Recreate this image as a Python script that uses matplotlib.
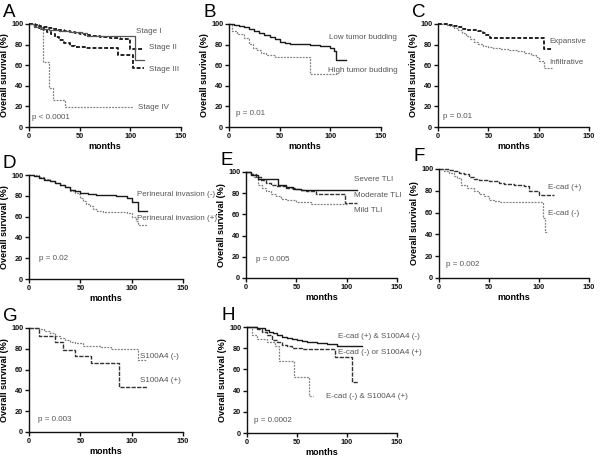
import matplotlib
matplotlib.use("Agg")
import matplotlib.pyplot as plt

plt.rcParams['font.family'] = ['Liberation Sans', 'DejaVu Sans']

# ---------------- data (months, survival %) ----------------
# Panel A
a_stage1_t = [0, 5, 12, 20, 30, 40, 52, 57, 105, 113]
a_stage1_s = [100, 97, 95, 94, 93, 92, 91, 88, 65, 65]
a_stage2_t = [0, 4, 8, 12, 16, 20, 25, 30, 35, 40, 45, 50, 55, 60, 70, 80, 90, 100, 113]
a_stage2_s = [100, 99, 98, 97.5, 97, 96, 95, 94, 93, 92, 91, 90, 89, 88, 87, 86, 85, 76, 76]
a_stage3_t = [0, 6, 10, 15, 18, 22, 26, 30, 35, 40, 45, 55, 88, 103, 113]
a_stage3_s = [100, 98, 96, 94, 92, 90, 87, 84, 82, 79, 78, 77, 70, 57, 57]
a_stage4_t = [0, 10, 14, 20, 24, 36, 103]
a_stage4_s = [100, 95, 63, 38, 26, 19, 19]

# Panel B
b_low_t = [0, 5, 10, 15, 20, 25, 30, 35, 40, 45, 50, 55, 60, 70, 80, 90, 100, 104, 106, 115]
b_low_s = [100, 99, 98, 97, 95, 93, 91, 89, 87, 85, 83, 82, 81, 80.5, 80, 79, 77, 74, 65, 65]
b_high_t = [0, 3, 8, 15, 20, 24, 28, 32, 37, 45, 80, 107]
b_high_s = [100, 93, 90, 86, 81, 77, 75, 72, 70, 68, 51, 51]

# Panel C
c_exp_t = [0, 10, 15, 20, 25, 30, 35, 40, 45, 48, 52, 105, 113]
c_exp_s = [100, 99, 98, 97, 95, 94.5, 94, 93, 91, 89, 86, 76, 76]
c_inf_t = [0, 8, 12, 16, 20, 24, 28, 32, 36, 40, 45, 50, 55, 62, 70, 78, 85, 92, 97, 100, 105, 113]
c_inf_s = [100, 99, 98, 96, 94, 91, 88, 85, 83, 81, 79, 78, 77, 76, 75, 74, 72, 70, 68, 64, 57, 57]

# Panel D
d_neg_t = [0, 5, 10, 15, 20, 25, 30, 35, 40, 45, 50, 57, 65, 75, 85, 95, 100, 106, 115]
d_neg_s = [100, 99, 97, 95.5, 94, 92, 90, 88, 86, 84.5, 83, 82, 81, 80.5, 80, 78, 74, 65, 65]
d_pos_t = [0, 10, 15, 20, 25, 30, 35, 40, 45, 48, 50, 53, 56, 59, 62, 66, 72, 95, 100, 104, 106, 115]
d_pos_s = [100, 98, 96, 94, 92, 90, 88, 85, 83, 82, 78, 75, 72, 70, 67, 65, 64, 63, 60, 56, 52, 52]

# Panel E
e_sev_t = [0, 5, 12, 30, 32, 40, 47, 55, 110]
e_sev_s = [100, 97, 93, 93, 88, 86, 84, 83, 83]
e_mod_t = [0, 5, 10, 15, 20, 25, 30, 40, 50, 55, 60, 70, 98, 110]
e_mod_s = [100, 98, 95, 92, 90, 88, 87, 85, 84, 83, 82, 79, 71, 71]
e_mild_t = [0, 5, 8, 12, 16, 20, 25, 30, 35, 40, 50, 65, 100]
e_mild_s = [100, 97, 95, 88, 85, 82, 79, 77, 75, 74, 72, 70, 70]

# Panel F
f_pos_t = [0, 10, 15, 20, 25, 30, 35, 40, 50, 60, 65, 75, 85, 90, 100, 115]
f_pos_s = [100, 99, 98, 96, 95, 93, 91, 90, 89, 87, 86, 85, 84, 80, 76, 76]
f_neg_t = [0, 5, 10, 15, 18, 22, 28, 35, 40, 45, 50, 55, 60, 104, 106, 109]
f_neg_s = [100, 98, 96, 94, 92, 85, 83, 80, 77, 75, 72, 71, 70, 55, 42, 42]

# Panel G
g_neg_t = [0, 10, 15, 20, 25, 30, 35, 40, 45, 53, 62, 70, 80, 106, 115]
g_neg_s = [100, 99, 97, 95, 92, 90, 88, 87, 86, 83, 82.5, 82, 80, 69, 69]
g_pos_t = [0, 10, 25, 33, 45, 60, 88, 115]
g_pos_s = [100, 92, 87, 79, 73, 66, 43, 43]

# Panel H
h_best_t = [0, 10, 18, 22, 26, 30, 35, 40, 45, 50, 55, 60, 70, 80, 90, 115]
h_best_s = [100, 99, 97, 95, 94, 92, 91, 90, 89, 88, 87, 86, 85, 84, 82, 82]
h_mid_t = [0, 10, 15, 20, 25, 30, 35, 40, 45, 55, 88, 105, 111]
h_mid_s = [100, 98, 95, 92, 88, 86, 83, 82, 80, 79, 72, 48, 48]
h_worst_t = [0, 5, 10, 20, 28, 32, 47, 62, 66]
h_worst_s = [100, 92, 89, 86, 82, 68, 53, 35, 35]

# ---------------- styles ----------------
SOLID = dict(color='#1a1a1a', lw=1.0, ls='-')
DASH = dict(color='#333333', lw=1.0, ls=(0, (3, 1)))
DOT = dict(color='#808080', lw=0.9, ls=(0, (1.5, 1)))
THICKDOT = dict(color='#222222', lw=1.4, ls=(0, (2, 1)))

W, H = 600, 458
fig = plt.figure(figsize=(6.0, 4.58), dpi=100)

def make_ax(l, r, t, b):
    return fig.add_axes([l / W, 1 - b / H, (r - l) / W, (b - t) / H])

TXT = '#555555'

def style(ax, letter):
    ax.set_xlim(0, 150)
    ax.set_ylim(0, 100)
    ax.set_xticks([0, 50, 100, 150])
    ax.set_yticks([0, 20, 40, 60, 80, 100])
    for s in ['top', 'right']:
        ax.spines[s].set_visible(False)
    for s in ['left', 'bottom']:
        ax.spines[s].set_linewidth(1.0)
        ax.spines[s].set_color('#111111')
    ax.tick_params(direction='out', length=3, width=1.0, labelsize=5.3, pad=1.2, colors='#111111')
    for lab in ax.get_xticklabels() + ax.get_yticklabels():
        lab.set_fontweight('bold')
    ax.set_xlabel('months', fontsize=6.5, fontweight='bold', labelpad=1.5)
    ax.set_ylabel('Overall survival (%)', fontsize=6.5, fontweight='bold', labelpad=1.5)
    ax.text(-0.17, 1.19, letter, transform=ax.transAxes, fontsize=13.5, ha='left', va='top')

def km(ax, t, s, st):
    ax.step(t, s, where='post', clip_on=False, **st)

def note(ax, x, y, txt, size=5.8):
    ax.text(x, y, txt, fontsize=size, color=TXT, va='center', ha='left', clip_on=False)

# A
ax = make_ax(29, 181, 24, 127)
style(ax, 'A')
km(ax, a_stage4_t, a_stage4_s, DOT)
km(ax, a_stage3_t, a_stage3_s, THICKDOT)
km(ax, a_stage2_t, a_stage2_s, THICKDOT)
km(ax, a_stage1_t, a_stage1_s, dict(color='#555555', lw=0.9, ls='-'))
note(ax, 106, 93, 'Stage I')
note(ax, 118, 77, 'Stage II')
note(ax, 118, 56, 'Stage III')
note(ax, 108, 19, 'Stage IV')
note(ax, 3, 9, 'p < 0.0001')

# B
ax = make_ax(229, 381, 24, 127)
style(ax, 'B')
km(ax, b_high_t, b_high_s, DOT)
km(ax, b_low_t, b_low_s, SOLID)
note(ax, 99, 87, 'Low tumor budding')
note(ax, 98, 55, 'High tumor budding')
note(ax, 7, 13, 'p = 0.01')

# C
ax = make_ax(438, 589, 24, 127)
style(ax, 'C')
km(ax, c_inf_t, c_inf_s, DOT)
km(ax, c_exp_t, c_exp_s, THICKDOT)
note(ax, 111, 83, 'Expansive')
note(ax, 111, 63, 'Infiltrative')
note(ax, 5, 10, 'p = 0.01')

# D
ax = make_ax(29, 183, 175, 279)
style(ax, 'D')
km(ax, d_pos_t, d_pos_s, DOT)
km(ax, d_neg_t, d_neg_s, SOLID)
note(ax, 105, 81, 'Perineural invasion (-)')
note(ax, 105, 58, 'Perineural invasion (+)')
note(ax, 10, 20, 'p = 0.02')

# E
ax = make_ax(246, 397, 172, 278)
style(ax, 'E')
km(ax, e_mild_t, e_mild_s, DOT)
km(ax, e_mod_t, e_mod_s, DASH)
km(ax, e_sev_t, e_sev_s, SOLID)
note(ax, 107, 93, 'Severe TLI')
note(ax, 107, 78, 'Moderate TLI')
note(ax, 107, 64, 'Mild TLI')
note(ax, 10, 17, 'p = 0.005')

# F
ax = make_ax(439, 589, 169, 278)
style(ax, 'F')
km(ax, f_neg_t, f_neg_s, DOT)
km(ax, f_pos_t, f_pos_s, DASH)
note(ax, 109, 83, 'E-cad (+)')
note(ax, 109, 59, 'E-cad (-)')
note(ax, 7, 12, 'p = 0.002')

# G
ax = make_ax(29, 183, 328, 432)
style(ax, 'G')
km(ax, g_neg_t, g_neg_s, DOT)
km(ax, g_pos_t, g_pos_s, DASH)
note(ax, 108, 73, 'S100A4 (-)')
note(ax, 108, 50, 'S100A4 (+)')
note(ax, 9, 12, 'p = 0.003')

# H
ax = make_ax(247, 397, 327, 433)
style(ax, 'H')
km(ax, h_worst_t, h_worst_s, DOT)
km(ax, h_mid_t, h_mid_s, DASH)
km(ax, h_best_t, h_best_s, SOLID)
note(ax, 91, 91, 'E-cad (+) & S100A4 (-)')
note(ax, 91, 76, 'E-cad (-) or S100A4 (+)')
note(ax, 79, 34, 'E-cad (-) & S100A4 (+)')
note(ax, 7, 12, 'p = 0.0002')

fig.savefig('out.png', dpi=100)
